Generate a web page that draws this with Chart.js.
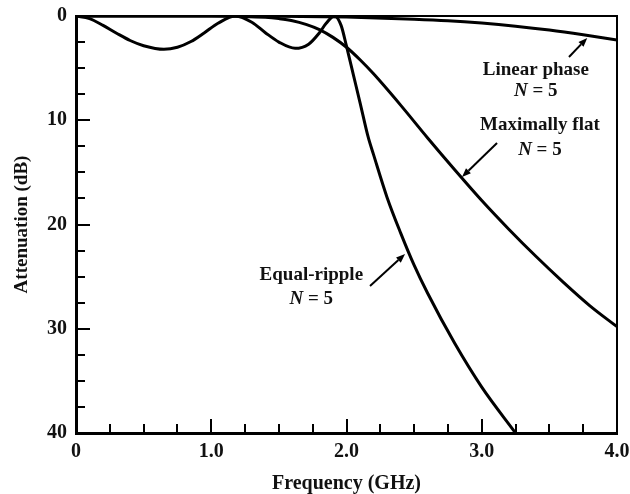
<!DOCTYPE html>
<html>
<head>
<meta charset="utf-8">
<script src="https://cdn.jsdelivr.net/npm/chart.js@4.4.1/dist/chart.umd.min.js"></script>
<style>
  html, body { margin: 0; padding: 0; background: #fff; }
</style>
</head>
<body>
<canvas id="atten-chart" width="630" height="494"></canvas>
<script>
// Attenuation vs frequency, N = 5 low-pass responses
var rippleFreq  = [0, 0.1, 0.2, 0.3, 0.4, 0.5, 0.65, 0.75, 0.85, 0.95, 1.05, 1.18, 1.3, 1.4, 1.5, 1.62, 1.72, 1.8, 1.85, 1.91, 1.96, 2.0, 2.05, 2.1, 2.16, 2.2, 2.3, 2.4, 2.5, 2.6, 2.8, 3.0, 3.25];
var rippleAtten = [0, 0.25, 0.9, 1.65, 2.35, 2.85, 3.2, 3.0, 2.45, 1.6, 0.7, 0, 0.6, 1.6, 2.5, 3.1, 2.7, 1.6, 0.7, 0, 0.9, 2.9, 5.6, 8.3, 11.6, 13.3, 17.4, 20.8, 23.9, 26.6, 31.4, 35.6, 40];

var flatFreq  = [0, 0.5, 1.0, 1.2, 1.4, 1.5, 1.6, 1.7, 1.8, 1.9, 2.0, 2.1, 2.2, 2.4, 2.6, 2.8, 3.0, 3.2, 3.4, 3.6, 3.8, 4.0];
var flatAtten = [0, 0, 0, 0.03, 0.12, 0.25, 0.45, 0.8, 1.3, 2.05, 3.0, 4.2, 5.55, 8.55, 11.7, 14.75, 17.7, 20.45, 23.05, 25.5, 27.8, 29.8];

var phaseFreq  = [0, 1.0, 1.5, 2.0, 2.5, 2.75, 3.0, 3.25, 3.5, 3.75, 4.0];
var phaseAtten = [0, 0, 0.02, 0.1, 0.3, 0.45, 0.68, 0.98, 1.35, 1.8, 2.3];

var xTickLabels = ['0', '1.0', '2.0', '3.0', '4.0'];
var yTickLabels = ['0', '10', '20', '30', '40'];

// callouts: text centre, arrow tail and tip, in data units
var notes = [
    { text: 'Linear phase',   x: 3.40, y1: 5.2,  y2: 7.2,  tail: [3.645, 3.93], tip: [3.78, 2.1] },
    { text: 'Maximally flat', x: 3.43, y1: 10.45, y2: 12.85, tail: [3.113, 12.18], tip: [2.854, 15.44] },
    { text: 'Equal-ripple',   x: 1.74, y1: 24.85, y2: 27.15, tail: [2.174, 25.9], tip: [2.433, 22.83] }
];

var FONT = "'Liberation Serif', 'Times New Roman', serif";
var INK = '#111';

function toPoints(xs, ys) {
    return xs.map(function (x, i) { return { x: x, y: ys[i] }; });
}

var frame = {
    id: 'frame',
    afterDraw: function (chart) {
        var ctx = chart.ctx, a = chart.chartArea;
        var xs = chart.scales.x, ys = chart.scales.y;
        ctx.save();
        ctx.strokeStyle = '#000';

        // top and right edges
        ctx.lineWidth = 2;
        ctx.beginPath();
        ctx.moveTo(a.left, a.top);
        ctx.lineTo(a.right, a.top);
        ctx.lineTo(a.right, a.bottom);
        ctx.stroke();

        // inward ticks
        ctx.lineWidth = 2;
        ctx.beginPath();
        for (var v = 0.25; v < 4; v += 0.25) {
            var px = Math.round(xs.getPixelForValue(v));
            var len = (v % 1 === 0) ? 14 : 9;
            ctx.moveTo(px, a.bottom);
            ctx.lineTo(px, a.bottom - len);
        }
        for (var d = 2.5; d < 40; d += 2.5) {
            var py = Math.round(ys.getPixelForValue(d));
            var l2 = (d % 10 === 0) ? 14 : 9;
            ctx.moveTo(a.left, py);
            ctx.lineTo(a.left + l2, py);
        }
        ctx.stroke();

        // callouts
        ctx.fillStyle = INK;
        ctx.textBaseline = 'middle';
        notes.forEach(function (n) {
            var cx = xs.getPixelForValue(n.x);
            ctx.font = 'bold 19px ' + FONT;
            ctx.textAlign = 'center';
            ctx.fillText(n.text, cx, ys.getPixelForValue(n.y1));

            // "N = 5" with italic N
            ctx.textAlign = 'left';
            var italic = 'italic bold 19px ' + FONT;
            var plain = 'bold 19px ' + FONT;
            ctx.font = italic;
            var wN = ctx.measureText('N').width;
            ctx.font = plain;
            var wR = ctx.measureText(' = 5').width;
            var x0 = cx - (wN + wR) / 2;
            var y2 = ys.getPixelForValue(n.y2);
            ctx.font = italic;
            ctx.fillText('N', x0, y2);
            ctx.font = plain;
            ctx.fillText(' = 5', x0 + wN, y2);

            // arrow
            var tx = xs.getPixelForValue(n.tail[0]), ty = ys.getPixelForValue(n.tail[1]);
            var hx = xs.getPixelForValue(n.tip[0]), hy = ys.getPixelForValue(n.tip[1]);
            var ang = Math.atan2(hy - ty, hx - tx);
            var hl = 9, hw = 3.5;
            var bx = hx - hl * Math.cos(ang), by = hy - hl * Math.sin(ang);
            ctx.lineWidth = 2;
            ctx.beginPath();
            ctx.moveTo(tx, ty);
            ctx.lineTo(bx, by);
            ctx.stroke();
            ctx.beginPath();
            ctx.moveTo(hx, hy);
            ctx.lineTo(bx + hw * Math.sin(ang), by - hw * Math.cos(ang));
            ctx.lineTo(bx - hw * Math.sin(ang), by + hw * Math.cos(ang));
            ctx.closePath();
            ctx.fillStyle = '#000';
            ctx.fill();
            ctx.fillStyle = INK;
        });
        ctx.restore();
    }
};

var ctx = document.getElementById('atten-chart').getContext('2d');
new Chart(ctx, {
    type: 'line',
    data: {
        datasets: [
            { label: 'Equal-ripple', data: toPoints(rippleFreq, rippleAtten) },
            { label: 'Maximally flat', data: toPoints(flatFreq, flatAtten) },
            { label: 'Linear phase', data: toPoints(phaseFreq, phaseAtten) }
        ]
    },
    options: {
        responsive: false,
        animation: false,
        layout: { padding: { top: 16, right: 13, left: 0, bottom: 0 } },
        plugins: { legend: { display: false }, tooltip: { enabled: false } },
        elements: {
            point: { radius: 0 },
            line: { borderWidth: 3, borderColor: '#000', cubicInterpolationMode: 'monotone', fill: false }
        },
        scales: {
            x: {
                type: 'linear', min: 0, max: 4,
                afterFit: function (s) { s.height = 61; s.paddingLeft = 0; s.paddingRight = 0; },
                grid: { drawOnChartArea: false, drawTicks: false },
                border: { display: true, color: '#000', width: 3 },
                ticks: {
                    stepSize: 1, padding: 7, maxRotation: 0, color: INK,
                    font: { family: FONT, size: 20, weight: 'bold' },
                    callback: function (v) { return xTickLabels[Math.round(v)]; }
                },
                title: {
                    display: true, text: 'Frequency (GHz)', color: INK,
                    padding: { top: 0, bottom: 0 },
                    font: { family: FONT, size: 20, weight: 'bold', lineHeight: 1.0 }
                }
            },
            y: {
                type: 'linear', min: 0, max: 40, reverse: true,
                afterFit: function (s) { s.width = 76; s.paddingTop = 0; s.paddingBottom = 0; },
                grid: { drawOnChartArea: false, drawTicks: false },
                border: { display: true, color: '#000', width: 3 },
                ticks: {
                    stepSize: 10, padding: 9, color: INK,
                    font: { family: FONT, size: 20, weight: 'bold' },
                    callback: function (v) { return yTickLabels[Math.round(v / 10)]; }
                },
                title: {
                    display: true, text: 'Attenuation (dB)', color: INK,
                    padding: { top: 11, bottom: 0 },
                    font: { family: FONT, size: 19, weight: 'bold', lineHeight: 1.2 }
                }
            }
        }
    },
    plugins: [frame]
});
</script>
</body>
</html>
